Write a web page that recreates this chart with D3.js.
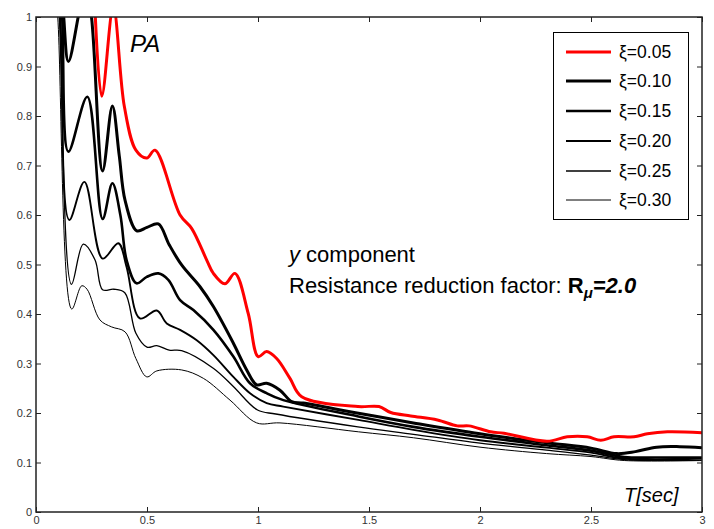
<!DOCTYPE html>
<html><head><meta charset="utf-8">
<script src="https://cdn.jsdelivr.net/npm/d3@7"></script>
<style>
body{margin:0;background:#fff;}
svg{display:block;font-family:"Liberation Sans",Arial,sans-serif;}
</style></head>
<body><svg id="c" width="714" height="529"></svg>
<script>
// ---- data ----
const labels = ["ξ=0.05","ξ=0.10","ξ=0.15","ξ=0.20","ξ=0.25","ξ=0.30"];
const xTicks = [0,0.5,1,1.5,2,2.5,3];
const yTicks = [0,0.1,0.2,0.3,0.4,0.5,0.6,0.7,0.8,0.9,1];

const T05 = [0.24,0.296,0.348,0.398,0.45,0.499,0.536,0.649,0.701,0.769,0.799,0.851,0.896,0.956,1.001,1.039,1.084,1.144,1.197,1.45,1.545,1.598,1.688,1.808,1.898,1.95,2.048,2.108,2.303,2.393,2.483,2.544,2.604,2.694,2.754,2.844,3.0];
const V05 = [1.35,0.84,1.02,0.819,0.731,0.715,0.731,0.60,0.573,0.509,0.482,0.461,0.482,0.401,0.314,0.324,0.310,0.270,0.233,0.213,0.213,0.201,0.194,0.186,0.174,0.174,0.162,0.159,0.143,0.152,0.152,0.145,0.152,0.152,0.158,0.162,0.160];

const T10 = [0.08,0.125,0.146,0.19,0.22,0.25,0.300,0.344,0.375,0.401,0.454,0.50,0.551,0.60,0.656,0.739,0.799,0.889,0.949,0.994,1.039,1.099,1.152,1.204,1.459,1.7,2.0,2.3,2.5,2.616,2.7,2.796,2.9,3.0];
const V10 = [1.6,1.0,0.91,1.0,1.08,1.0,0.689,0.820,0.72,0.63,0.568,0.575,0.582,0.54,0.499,0.455,0.415,0.341,0.287,0.257,0.260,0.246,0.223,0.220,0.199,0.180,0.158,0.140,0.129,0.118,0.122,0.131,0.132,0.130];

const T15 = [0.08,0.118,0.146,0.231,0.300,0.344,0.38,0.408,0.453,0.499,0.551,0.596,0.649,0.709,0.799,0.889,0.964,1.039,1.114,1.452,1.7,2.0,2.3,2.5,2.65,2.8,3.0];
const V15 = [1.4,1.0,0.728,0.839,0.592,0.664,0.60,0.509,0.462,0.475,0.482,0.469,0.428,0.408,0.368,0.314,0.260,0.240,0.226,0.193,0.172,0.152,0.135,0.124,0.111,0.110,0.110];

const T20 = [0.08,0.11,0.15,0.218,0.300,0.371,0.408,0.468,0.544,0.589,0.649,0.724,0.799,0.889,0.964,1.039,1.114,1.452,1.7,2.0,2.3,2.5,2.65,3.0];
const V20 = [1.3,1.0,0.59,0.667,0.512,0.543,0.495,0.391,0.407,0.381,0.368,0.347,0.317,0.273,0.240,0.220,0.213,0.186,0.166,0.145,0.130,0.120,0.108,0.108];

const T25 = [0.08,0.105,0.16,0.213,0.266,0.30,0.35,0.40,0.45,0.50,0.544,0.60,0.656,0.80,0.89,0.998,1.08,1.45,1.7,2.0,2.3,2.5,2.65,3.0];
const V25 = [1.2,1.0,0.460,0.541,0.509,0.449,0.450,0.443,0.361,0.333,0.336,0.327,0.326,0.290,0.253,0.206,0.198,0.172,0.157,0.139,0.125,0.115,0.106,0.105];

const T30 = [0.08,0.098,0.161,0.206,0.23,0.288,0.34,0.401,0.45,0.499,0.544,0.656,0.754,0.874,0.994,1.099,1.452,1.7,2.0,2.3,2.5,2.65,3.0];
const V30 = [1.1,1.0,0.410,0.457,0.45,0.388,0.374,0.364,0.31,0.273,0.285,0.287,0.270,0.226,0.180,0.180,0.162,0.150,0.131,0.118,0.112,0.104,0.104];

const seriesT = [T05,T10,T15,T20,T25,T30];
const seriesV = [V05,V10,V15,V20,V25,V30];
const colors = ["#ff0000","#000","#000","#000","#000","#000"];
const widths = [3,3,2.6,1.9,1.3,1];

// ---- layout ----
const svg = d3.select("#c");
const L=36, R=702, Tp=17, B=512;
const x = d3.scaleLinear().domain([0,3]).range([L,R]);
const y = d3.scaleLinear().domain([0,1]).range([B,Tp]);

svg.append("defs").append("clipPath").attr("id","clip")
  .append("rect").attr("x",L).attr("y",Tp).attr("width",R-L).attr("height",B-Tp);

const line = d3.line().x(d=>x(d[0])).y(d=>y(d[1])).curve(d3.curveCatmullRom.alpha(0.5));
const g = svg.append("g").attr("clip-path","url(#clip)");
for(let i=seriesT.length-1;i>=0;i--){
  const pts = seriesT[i].map((t,k)=>[t,seriesV[i][k]]);
  g.append("path").attr("d",line(pts)).attr("fill","none")
    .attr("stroke",colors[i]).attr("stroke-width",widths[i]).attr("stroke-linejoin","round");
}

// axes with inward ticks
const axStyle = s => { s.select(".domain").remove(); s.selectAll("line").attr("stroke","#222"); s.selectAll("text").attr("fill","#333").style("font-size","11px").style("font-family","'Liberation Sans',Arial,sans-serif"); };
svg.append("g").attr("transform",`translate(0,${B})`)
  .call(d3.axisBottom(x).tickValues(xTicks).tickSizeInner(-5).tickPadding(4).tickFormat(d3.format("~g")))
  .call(axStyle);
svg.append("g").attr("transform",`translate(0,${Tp})`)
  .call(d3.axisTop(x).tickValues(xTicks).tickSizeInner(-5).tickFormat(""))
  .call(axStyle);
svg.append("g").attr("transform",`translate(${L},0)`)
  .call(d3.axisLeft(y).tickValues(yTicks).tickSizeInner(-5).tickPadding(4).tickFormat(d3.format("~g")))
  .call(axStyle);
svg.append("g").attr("transform",`translate(${R},0)`)
  .call(d3.axisRight(y).tickValues(yTicks).tickSizeInner(-5).tickFormat(""))
  .call(axStyle);
svg.append("rect").attr("x",L).attr("y",Tp).attr("width",R-L).attr("height",B-Tp)
  .attr("fill","none").attr("stroke","#222").attr("stroke-width",1.5);

// annotations
svg.append("text").attr("x",130).attr("y",52).attr("font-size",24).attr("font-style","italic").text("PA");
svg.append("text").attr("x",624).attr("y",502).attr("font-size",20).attr("font-style","italic").text("T[sec]");
const t1 = svg.append("text").attr("x",289).attr("y",262).attr("font-size",22);
t1.append("tspan").attr("font-style","italic").text("y");
t1.append("tspan").text(" component");
const t2 = svg.append("text").attr("x",289).attr("y",293).attr("font-size",22);
t2.append("tspan").text("Resistance reduction factor: ");
t2.append("tspan").attr("font-weight","bold").text("R");
t2.append("tspan").attr("font-weight","bold").attr("font-style","italic").attr("font-size",15).attr("dy",5).text("μ");
t2.append("tspan").attr("font-weight","bold").attr("font-style","italic").attr("dy",-5).text("=2.0");

// legend
const lg = svg.append("g");
lg.append("rect").attr("x",553.5).attr("y",32.5).attr("width",135).attr("height",187)
  .attr("fill","#fff").attr("stroke","#000").attr("stroke-width",1);
const rowY = [52,81,111,141,171,200];
labels.forEach((lab,i)=>{
  lg.append("line").attr("x1",566).attr("x2",611).attr("y1",rowY[i]).attr("y2",rowY[i])
    .attr("stroke",colors[i]).attr("stroke-width",widths[i]);
  lg.append("text").attr("x",619).attr("y",rowY[i]+6).attr("font-size",17.5).text(lab);
});
</script></body></html>
